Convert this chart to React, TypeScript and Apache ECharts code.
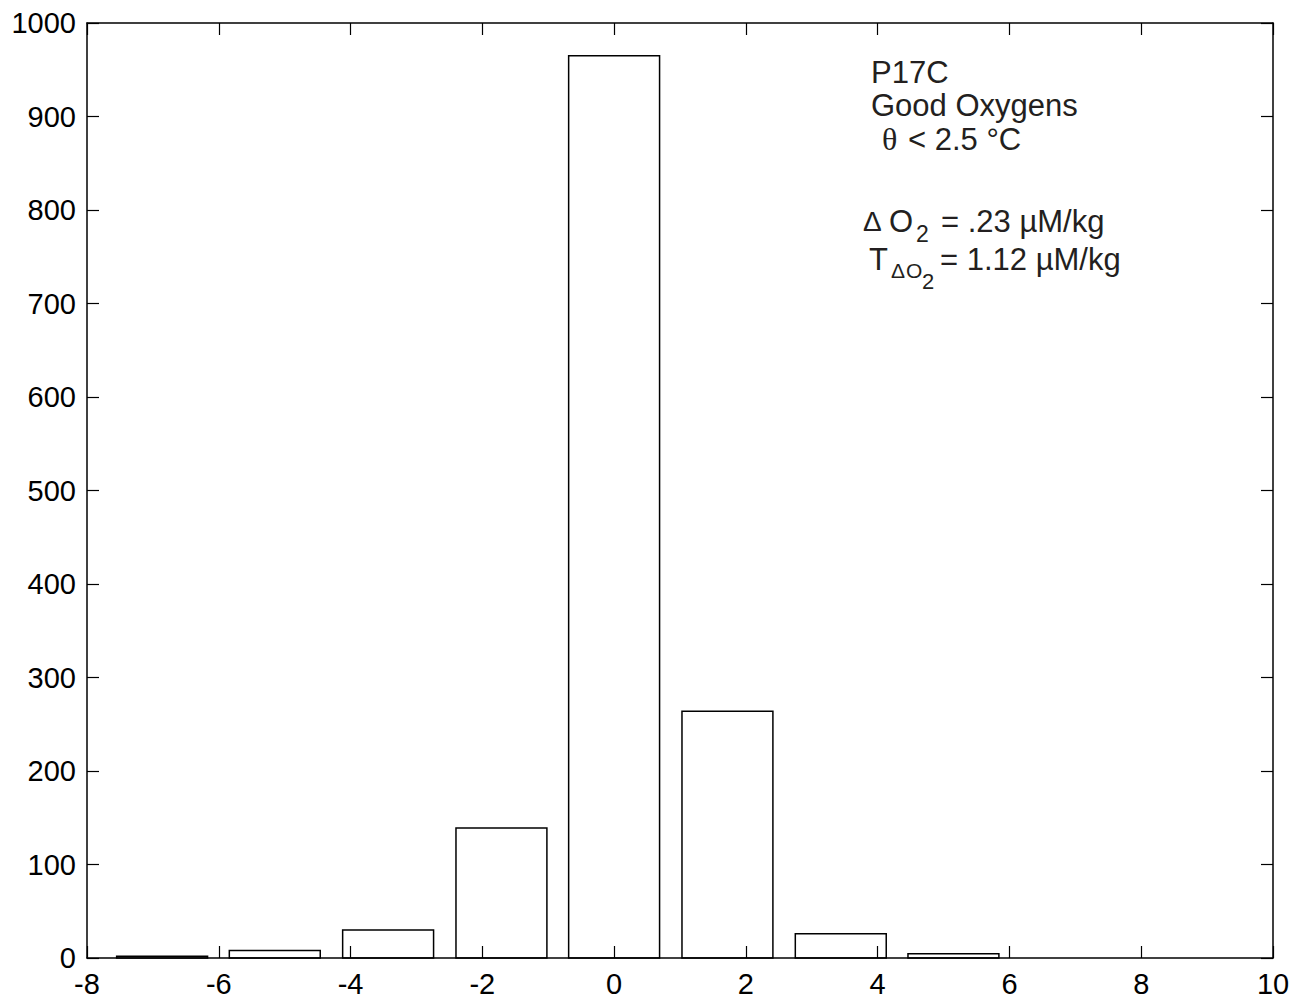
import React, { useEffect, useRef } from "react";
import * as echarts from "echarts";

// Histogram of oxygen differences (bin centres, counts)
const binCenters = [-6.86, -5.15, -3.43, -1.71, 0.0, 1.72, 3.44, 5.15];
const binCounts = [2, 8, 30, 139, 965, 264, 26, 4.5];
const BAR_WIDTH = 1.38; // in x-axis units

const xMin = -8;
const xMax = 10;
const xInterval = 2;
const yMin = 0;
const yMax = 1000;
const yInterval = 100;

const TEXT_COLOR = "#231f20";
const SANS = "'Liberation Sans', Arial, Helvetica, sans-serif";
const SERIF = "'Liberation Serif', 'Times New Roman', serif";

export default function App() {
  const ref = useRef<HTMLDivElement>(null);

  useEffect(() => {
    if (!ref.current) return;
    const chart = echarts.init(ref.current, undefined, { renderer: "svg" });

    const axisCommon = {
      type: "value" as const,
      axisLine: { show: true, onZero: false, lineStyle: { color: "#000", width: 1.5 } },
      axisTick: { show: true, inside: true, length: 12, lineStyle: { color: "#000", width: 1.2 } },
      splitLine: { show: false },
    };

    const txt = (x: number, y: number, text: string, size: number, family = SANS) => ({
      type: "text",
      x,
      y,
      style: {
        text,
        fill: TEXT_COLOR,
        font: `${size}px ${family}`,
        textAlign: "left",
        textVerticalAlign: "middle",
        verticalAlign: "middle",
      },
    });

    const fmt = (v: number) => String(v);

    chart.setOption({
      animation: false,
      backgroundColor: "#fff",
      grid: { left: 87, right: 22, top: 23, bottom: 42, containLabel: false },
      xAxis: [
        {
          ...axisCommon,
          position: "bottom",
          min: xMin,
          max: xMax,
          interval: xInterval,
          axisLabel: { show: true, color: "#000", fontSize: 29, fontFamily: SANS, margin: 11, formatter: fmt },
        },
        {
          ...axisCommon,
          position: "top",
          min: xMin,
          max: xMax,
          interval: xInterval,
          axisLabel: { show: false },
        },
      ],
      yAxis: [
        {
          ...axisCommon,
          position: "left",
          min: yMin,
          max: yMax,
          interval: yInterval,
          axisLabel: { show: true, color: "#000", fontSize: 29, fontFamily: SANS, margin: 11, formatter: fmt },
        },
        {
          ...axisCommon,
          position: "right",
          min: yMin,
          max: yMax,
          interval: yInterval,
          axisLabel: { show: false },
        },
      ],
      series: [
        {
          type: "custom",
          xAxisIndex: 0,
          yAxisIndex: 0,
          data: binCenters.map((c, i) => [c, binCounts[i]]),
          encode: { x: 0, y: 1 },
          renderItem: (params: any, api: any) => {
            const c = api.value(0);
            const v = api.value(1);
            const p0 = api.coord([c - BAR_WIDTH / 2, v]);
            const p1 = api.coord([c + BAR_WIDTH / 2, 0]);
            return {
              type: "rect",
              shape: { x: p0[0], y: p0[1], width: p1[0] - p0[0], height: p1[1] - p0[1] },
              style: { fill: "none", stroke: "#000", lineWidth: 1.5 },
            };
          },
        },
      ],
      graphic: [
        txt(871, 72, "P17C", 31),
        txt(871, 105.5, "Good Oxygens", 31),
        txt(882, 139, "θ", 32, SERIF),
        txt(908, 139, "< 2.5 °C", 31),
        txt(863, 221, "Δ", 28),
        txt(889, 221, "O", 31),
        txt(916, 233.5, "2", 23),
        txt(941, 221, "= .23 µM/kg", 31),
        txt(869, 259, "T", 31),
        txt(891, 270, "Δ", 21),
        txt(906, 270, "O", 21),
        txt(922, 281, "2", 22),
        txt(940, 259, "= 1.12 µM/kg", 31),
      ],
    });

    return () => chart.dispose();
  }, []);

  return (
    <div
      ref={ref}
      style={{ position: "absolute", left: 0, top: 0, width: 1295, height: 1000 }}
    />
  );
}
